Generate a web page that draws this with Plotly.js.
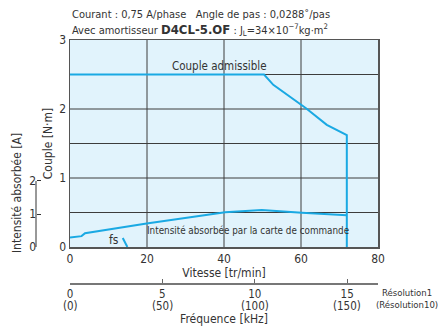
<!DOCTYPE html>
<html><head><meta charset="utf-8">
<script src="https://cdn.plot.ly/plotly-3.0.1.min.js"></script>
<style>html,body{margin:0;padding:0;background:#fff;}#chart{width:439px;height:331px;}</style>
</head><body><div id="chart"></div>
<script>
// Data
var torqueSpeed = [0, 50.4, 52.8, 61.3, 66.7, 71.9, 71.9];
var torqueValue = [2.5, 2.5, 2.35, 2.01, 1.77, 1.62, 0];
var currentSpeed = [0, 3.0, 3.9, 19.9, 40.3, 49.8, 60.2, 71.9];
var currentValue = [0.29, 0.33, 0.42, 0.71, 1.05, 1.12, 1.04, 0.96];
var fsSpeed = [13.7, 14.9];
var fsTorque = [0.13, 0];
var freqTicks = [0, 5, 10, 15];
var freqLabels = ['0', '5', '10', '15'];
var freqLabels10 = ['(0)', '(50)', '(100)', '(150)'];
var speedTicks = [0, 20, 40, 60, 80];
var torqueTicks = [0, 0.5, 1, 1.5, 2, 2.5, 3];
var torqueTickText = ['0', '', '1', '', '2', '', '3'];
var currentTicks = [0, 1, 2];

var FONT = 'DejaVu Sans Condensed, Liberation Sans Narrow, sans-serif';
var BLUE = '#1aa9e3';
var TXT = '#333333';
var GRID = '#3c3c3c';
var CUR_TOP = 6.27; // secondary range top so that 0..2 A occupies the lower part
var X0 = 0.1397, Y0 = 0.1481;

// grid built from the tick arrays, drawn as a line trace under the curves
var gx = [], gy = [];
speedTicks.forEach(function (v) {
  if (v > 0 && v < 80) { gx.push(v, v, null); gy.push(0, 3, null); }
});
torqueTicks.forEach(function (v) {
  if (v > 0 && v < 3) { gx.push(0, 80, null); gy.push(v, v, null); }
});

var traces = [
  {x: gx, y: gy, xaxis: 'x', yaxis: 'y', mode: 'lines', connectgaps: false,
   line: {color: GRID, width: 1}, hoverinfo: 'skip', showlegend: false},
  {x: torqueSpeed, y: torqueValue, xaxis: 'x', yaxis: 'y', mode: 'lines',
   line: {color: BLUE, width: 2}, hoverinfo: 'skip', showlegend: false},
  {x: fsSpeed, y: fsTorque, xaxis: 'x', yaxis: 'y', mode: 'lines',
   line: {color: BLUE, width: 2}, hoverinfo: 'skip', showlegend: false},
  {x: currentSpeed, y: currentValue, xaxis: 'x', yaxis: 'y2', mode: 'lines',
   line: {color: BLUE, width: 2}, hoverinfo: 'skip', showlegend: false},
  {x: [0, 80 / 4.8], y: [null, null], xaxis: 'x2', yaxis: 'y', mode: 'lines',
   hoverinfo: 'skip', showlegend: false}
];

var annotations = [
  {xref: 'paper', yref: 'paper', x: X0, y: 1, yshift: 26, xanchor: 'left', yanchor: 'middle',
   showarrow: false, align: 'left', font: {size: 11, color: TXT},
   text: 'Courant : 0,75 A/phase   Angle de pas : 0,0288˚/pas'},
  {xref: 'paper', yref: 'paper', x: X0, y: 1, yshift: 10, xanchor: 'left', yanchor: 'middle',
   showarrow: false, align: 'left', font: {size: 11, color: TXT},
   text: 'Avec amortisseur <b><span style="font-size:13px">D4CL-5.OF</span></b> : J<sub>L</sub>=34×10<sup>−7</sup>kg·m<sup>2</sup>'},
  {xref: 'x', yref: 'y', x: 38.7, y: 2.63, showarrow: false, font: {size: 11.5, color: TXT},
   text: 'Couple admissible'},
  {xref: 'x', yref: 'y', x: 46.2, y: 0.24, showarrow: false, font: {size: 9.8, color: TXT},
   text: 'Intensité absorbée par la carte de commande'},
  {xref: 'x', yref: 'y', x: 11.4, y: 0.1, showarrow: false, font: {size: 12, color: TXT},
   text: 'fs'},
  {xref: 'paper', yref: 'paper', x: 1, xshift: 29, y: 0, yshift: -15, xanchor: 'center', yanchor: 'middle',
   showarrow: false, font: {size: 9.5, color: TXT}, text: 'Résolution1<br>(Résolution10)'},
  {xref: 'paper', yref: 'paper', x: 0, xshift: -3, y: 0.37, xanchor: 'center', yanchor: 'middle',
   textangle: -90, showarrow: false, font: {size: 12, color: TXT}, text: 'Intensité absorbée [A]'}
];
for (var i = 0; i < freqTicks.length; i++) {
  annotations.push({xref: 'x2', yref: 'paper', x: freqTicks[i], y: 0, yshift: -23,
    xanchor: 'center', yanchor: 'middle', showarrow: false,
    font: {size: 11.5, color: TXT}, text: freqLabels10[i]});
}

var shapes = [
  {type: 'rect', xref: 'paper', yref: 'paper', x0: X0, x1: 1, y0: Y0, y1: 1,
   layer: 'below', fillcolor: '#e1f3fc', line: {width: 0}},
  {type: 'line', xref: 'paper', yref: 'y2', x0: 0.0447, x1: 0.0447, y0: 0, y1: 2,
   line: {color: '#333', width: 1}}
];

var layout = {
  width: 439, height: 331,
  margin: {l: 20, r: 61, t: 40, b: 48},
  paper_bgcolor: '#ffffff',
  plot_bgcolor: 'rgba(0,0,0,0)',
  font: {family: FONT, size: 12, color: TXT},
  showlegend: false,
  xaxis: {
    domain: [X0, 1], range: [0, 80], anchor: 'y',
    tickvals: speedTicks, ticks: '', showgrid: false,
    showline: true, linecolor: '#555', linewidth: 1.5, mirror: true, zeroline: false,
    tickfont: {size: 12, color: TXT},
    title: {text: 'Vitesse [tr/min]', font: {size: 12, color: TXT}, standoff: 2}
  },
  yaxis: {
    domain: [Y0, 1], range: [0, 3], anchor: 'x',
    tickvals: torqueTicks, ticktext: torqueTickText, ticks: '', showgrid: false,
    showline: true, linecolor: '#555', linewidth: 1.5, mirror: true, zeroline: false,
    tickfont: {size: 12, color: TXT},
    title: {text: 'Couple [N·m]', font: {size: 12, color: TXT}, standoff: 4}
  },
  yaxis2: {
    overlaying: 'y', range: [0, CUR_TOP], anchor: 'free', position: 0.0447, side: 'left',
    tickvals: currentTicks, ticks: 'inside', ticklen: 4, tickcolor: '#333', tickwidth: 1,
    showgrid: false, zeroline: false, showline: false,
    tickfont: {size: 12, color: TXT}
  },
  xaxis2: {
    overlaying: 'x', anchor: 'free', position: 0, side: 'bottom', range: [0, 80 / 4.8],
    tickvals: freqTicks, ticktext: freqLabels, ticks: 'inside', ticklen: 4, tickcolor: '#666',
    showgrid: false, zeroline: false, showline: true, linecolor: '#777', linewidth: 1.5,
    tickfont: {size: 11.5, color: TXT},
    title: {text: 'Fréquence [kHz]', font: {size: 12, color: TXT}, standoff: 14}
  },
  shapes: shapes,
  annotations: annotations
};

Plotly.newPlot('chart', traces, layout, {staticPlot: true, displayModeBar: false});
</script></body></html>
